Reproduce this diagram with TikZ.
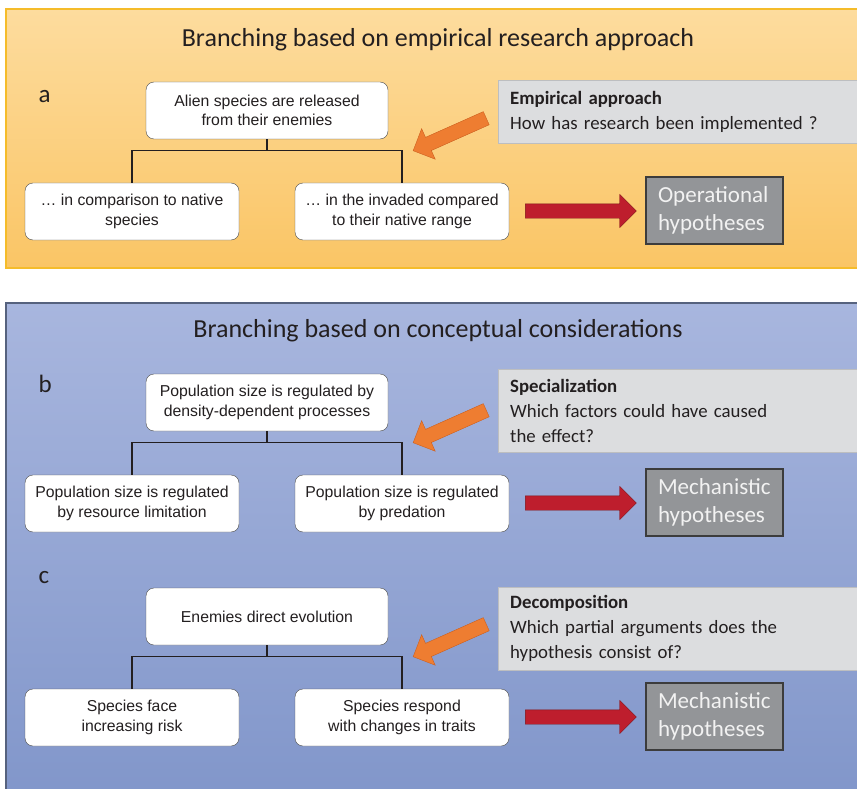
\documentclass[tikz,border=0pt]{standalone}
\usepackage{fontspec}
\setmainfont{Carlito}
\newfontfamily\arialfont{Liberation Sans}
\usetikzlibrary{calc}
\usetikzlibrary{shapes.arrows}
\definecolor{inkdark}{HTML}{231F20}
\definecolor{ambertop}{HTML}{FDDC9E}
\definecolor{amberbottom}{HTML}{FAC565}
\definecolor{amberline}{HTML}{F5BC2A}
\definecolor{skytop}{HTML}{A8B6DE}
\definecolor{skybottom}{HTML}{8196CA}
\definecolor{skyline}{HTML}{56627E}
\definecolor{askgray}{HTML}{DCDDDF}
\definecolor{askline}{HTML}{BDBEC0}
\definecolor{hypgray}{HTML}{939598}
\definecolor{hypline}{HTML}{3C3C3C}
\definecolor{arrowred}{HTML}{BE1E2D}
\definecolor{arrowredline}{HTML}{7E1418}
\definecolor{arroworange}{HTML}{EE7D31}
\definecolor{arroworangeline}{HTML}{CC5F1E}
\tikzset{
    leaf/.style={draw=black!70, fill=white, rounded corners=8pt, minimum width=#1, minimum height=57pt, align=center, text=inkdark, font=\arialfont\fontsize{15.8}{19.5}\selectfont},
    branch/.style={draw=inkdark, line width=1.2pt},
    headline/.style={text=inkdark, font=\fontsize{26}{30}\selectfont},
    tag/.style={text=inkdark, font=\fontsize{25}{28}\selectfont},
    askbox/.style={draw=askline, fill=askgray, anchor=north west, text width=380pt, inner xsep=12pt, align=left, text=inkdark, font=\fontsize{18.8}{25}\selectfont},
    hypbox/.style={draw=hypline, fill=hypgray, line width=1.2pt, text width=113pt, inner xsep=12pt, minimum height=67pt, align=left, text=white!95!black, font=\fontsize{23}{28}\selectfont},
    fatarrow/.style={single arrow, single arrow head extend=9.5pt, inner xsep=0pt, inner ysep=7pt, minimum width=0pt},
    redarrow/.style={fatarrow, draw=arrowredline, fill=arrowred, minimum height=111pt},
    orangearrow/.style={fatarrow, draw=arroworangeline, fill=arroworange, minimum height=80pt, rotate=204}
}
\begin{document}
\begin{tikzpicture}[x=1pt, y=-1pt]
\useasboundingbox (0,0) rectangle (857,789);
\clip (0,0) rectangle (857,789);
% the two panels
\shadedraw[draw=amberline, line width=1.5pt, top color=ambertop, bottom color=amberbottom] (6,9) rectangle (880,268);
\shadedraw[draw=skyline, line width=1.5pt, top color=skytop, bottom color=skybottom] (6,303) rectangle (880,800);
\node[headline, anchor=base] (atitle) at (438,47) {Branching based on empirical research approach};
\node[headline, anchor=base] (btitle) at (438,337) {Branching based on conceptual considerations};
\foreach \p/\y in {a/103, b/392, c/583}
    \node[tag, anchor=base west] (\p tag) at (35,\y) {\p};
% one tree per row
\foreach \p/\o/\yq/\hq/\ttop/\tleft/\tright/\qhead/\qtext/\thyp in {
    a/82/80/63/{Alien species are released\\from their enemies}/{… in comparison to native\\species}/{… in the invaded compared\\to their native range}/{Empirical approach}/{How has research been implemented ?}/{Operational\\hypotheses},
    b/374/369/83/{Population size is regulated by\\density-dependent processes}/{Population size is regulated\\by resource limitation}/{Population size is regulated\\by predation}/{Specialization}/{Which factors could have caused\\the effect?}/{Mechanistic\\hypotheses},
    c/588/587/83/{Enemies direct evolution}/{Species face\\increasing risk}/{Species respond\\with changes in traits}/{Decomposition}/{Which partial arguments does the\\hypothesis consist of?}/{Mechanistic\\hypotheses}}{
    \node[leaf=242pt] (\p top) at (267,\o+28.5) {\ttop};
    \node[leaf=214pt] (\p left) at (132,\o+129.5) {\tleft};
    \node[leaf=214pt] (\p right) at (402,\o+129.5) {\tright};
    \draw[branch] (\p top.south) -- ++(0,11) -| (\p left.north);
    \draw[branch] (\p top.south) -- ++(0,11) -| (\p right.north);
    \node[askbox, minimum height=\hq pt] (\p ask) at (498,\yq) {\textbf{\qhead}\\\qtext};
    \node[hypbox] (\p hyp) at (714.5,\o+128.5) {\thyp};
    \node[redarrow] (\p go) at ($(\p right.east)!.5!(\p hyp.west)$) {};
    \node[orangearrow] (\p point) at (453,\o+51) {};
}
\end{tikzpicture}
\end{document}
